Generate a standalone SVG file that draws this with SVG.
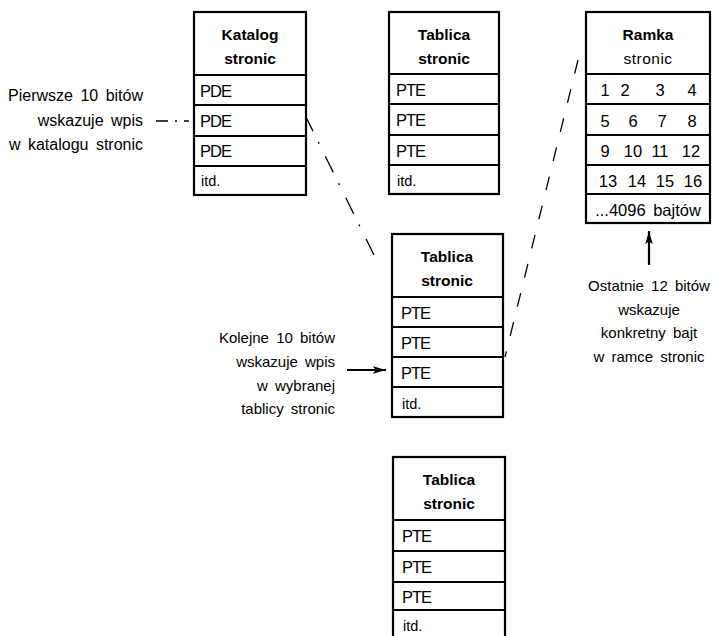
<svg xmlns="http://www.w3.org/2000/svg" width="715" height="636" viewBox="0 0 715 636">
<defs>
<marker id="ah" viewBox="0 0 14 10" refX="14" refY="5" markerWidth="6" markerHeight="4.5" orient="auto" markerUnits="strokeWidth">
<path d="M0,1 L14,5 L0,9 L3,5 Z" fill="#000"/>
</marker>
<style>
.box{fill:#fff;stroke:#000;stroke-width:2.2}
.ln{stroke:#000;stroke-width:2}
text{font-family:"Liberation Sans",Arial,sans-serif;fill:#000}
.h{font-size:15.5px;font-weight:bold;text-anchor:middle}
.hn{font-size:15.5px;text-anchor:middle;letter-spacing:0.5px}
.e{font-size:16.5px;letter-spacing:-1px}
.itd{font-size:14.5px}
.n{font-size:16.5px;text-anchor:middle}
.lab{font-size:15px;word-spacing:3px}
.lab16{font-size:16px;word-spacing:3px}
.r{text-anchor:end}
.m{text-anchor:middle}
.dd{fill:none;stroke:#000;stroke-width:1.3}
</style>
</defs>
<rect width="715" height="636" fill="#fff"/>

<g id="connectors">
<line class="dd" x1="305" y1="115" x2="374" y2="255" stroke-dasharray="18 12 2 14"/>
<line class="dd" x1="578" y1="60" x2="505" y2="357" stroke-dasharray="14 16"/>
<path d="M156,121 H168 M175,121 H177 M184,121 H189" stroke="#000" stroke-width="1.3"/>
<line x1="347" y1="370" x2="386" y2="370" stroke="#000" stroke-width="2.2" marker-end="url(#ah)"/>
<line x1="649" y1="265" x2="649" y2="231" stroke="#000" stroke-width="2.2" marker-end="url(#ah)"/>
</g>

<g id="katalog">
<rect class="box" x="194" y="12" width="112" height="183"/>
<line class="ln" x1="194" y1="75" x2="306" y2="75"/>
<line class="ln" x1="194" y1="105" x2="306" y2="105"/>
<line class="ln" x1="194" y1="136" x2="306" y2="136"/>
<line class="ln" x1="194" y1="166" x2="306" y2="166"/>
<text class="h" x="250" y="40">Katalog</text>
<text class="h" x="250" y="64">stronic</text>
<text class="e" x="200" y="97">PDE</text>
<text class="e" x="200" y="127">PDE</text>
<text class="e" x="200" y="157">PDE</text>
<text class="itd" x="201" y="186">itd.</text>
</g>

<g id="tablica1">
<rect class="box" x="389" y="12" width="110" height="182"/>
<line class="ln" x1="389" y1="74" x2="499" y2="74"/>
<line class="ln" x1="389" y1="104" x2="499" y2="104"/>
<line class="ln" x1="389" y1="135" x2="499" y2="135"/>
<line class="ln" x1="389" y1="165" x2="499" y2="165"/>
<text class="h" x="444" y="40">Tablica</text>
<text class="h" x="444" y="64">stronic</text>
<text class="e" x="396" y="96">PTE</text>
<text class="e" x="396" y="126">PTE</text>
<text class="e" x="396" y="157">PTE</text>
<text class="itd" x="397" y="186">itd.</text>
</g>

<g id="ramka">
<rect class="box" x="586" y="12" width="124" height="211"/>
<line class="ln" x1="586" y1="74" x2="710" y2="74"/>
<line class="ln" x1="586" y1="104" x2="710" y2="104"/>
<line class="ln" x1="586" y1="135" x2="710" y2="135"/>
<line class="ln" x1="586" y1="165" x2="710" y2="165"/>
<line class="ln" x1="586" y1="194" x2="710" y2="194"/>
<text class="h" x="648" y="40">Ramka</text>
<text class="hn" x="648" y="64">stronic</text>
<text class="n" x="605" y="96">1</text><text class="n" x="625" y="96">2</text><text class="n" x="660" y="96">3</text><text class="n" x="692" y="96">4</text>
<text class="n" x="605" y="127">5</text><text class="n" x="633" y="127">6</text><text class="n" x="662" y="127">7</text><text class="n" x="692" y="127">8</text>
<text class="n" x="605" y="157">9</text><text class="n" x="633" y="157">10</text><text class="n" x="660" y="157">11</text><text class="n" x="691" y="157">12</text>
<text class="n" x="608" y="187">13</text><text class="n" x="637" y="187">14</text><text class="n" x="665" y="187">15</text><text class="n" x="693" y="187">16</text>
<text class="n" x="648" y="216" word-spacing="3">...4096 bajtów</text>
</g>

<g id="tablica2">
<rect class="box" x="392" y="234" width="111" height="183"/>
<line class="ln" x1="392" y1="297" x2="503" y2="297"/>
<line class="ln" x1="392" y1="327" x2="503" y2="327"/>
<line class="ln" x1="392" y1="357" x2="503" y2="357"/>
<line class="ln" x1="392" y1="387" x2="503" y2="387"/>
<text class="h" x="447" y="262">Tablica</text>
<text class="h" x="447" y="286">stronic</text>
<text class="e" x="401" y="319">PTE</text>
<text class="e" x="401" y="349">PTE</text>
<text class="e" x="401" y="379">PTE</text>
<text class="itd" x="402" y="409">itd.</text>
</g>

<g id="tablica3">
<rect class="box" x="393" y="457" width="112" height="190"/>
<line class="ln" x1="393" y1="520" x2="505" y2="520"/>
<line class="ln" x1="393" y1="551" x2="505" y2="551"/>
<line class="ln" x1="393" y1="582" x2="505" y2="582"/>
<line class="ln" x1="393" y1="610" x2="505" y2="610"/>
<text class="h" x="449" y="485">Tablica</text>
<text class="h" x="449" y="509">stronic</text>
<text class="e" x="402" y="542">PTE</text>
<text class="e" x="402" y="573">PTE</text>
<text class="e" x="402" y="603">PTE</text>
<text class="itd" x="403" y="631">itd.</text>
</g>

<g id="label-pierwsze">
<text class="lab16 r" x="143" y="101">Pierwsze 10 bitów</text>
<text class="lab16 r" x="143" y="126">wskazuje wpis</text>
<text class="lab16 r" x="143" y="150">w katalogu stronic</text>
</g>

<g id="label-kolejne">
<text class="lab r" x="335" y="343">Kolejne 10 bitów</text>
<text class="lab r" x="335" y="367">wskazuje wpis</text>
<text class="lab r" x="335" y="391">w wybranej</text>
<text class="lab r" x="335" y="414">tablicy stronic</text>
</g>

<g id="label-ostatnie">
<text class="lab m" x="649" y="291">Ostatnie 12 bitów</text>
<text class="lab m" x="649" y="315">wskazuje</text>
<text class="lab m" x="649" y="338">konkretny bajt</text>
<text class="lab m" x="649" y="362">w ramce stronic</text>
</g>
</svg>
